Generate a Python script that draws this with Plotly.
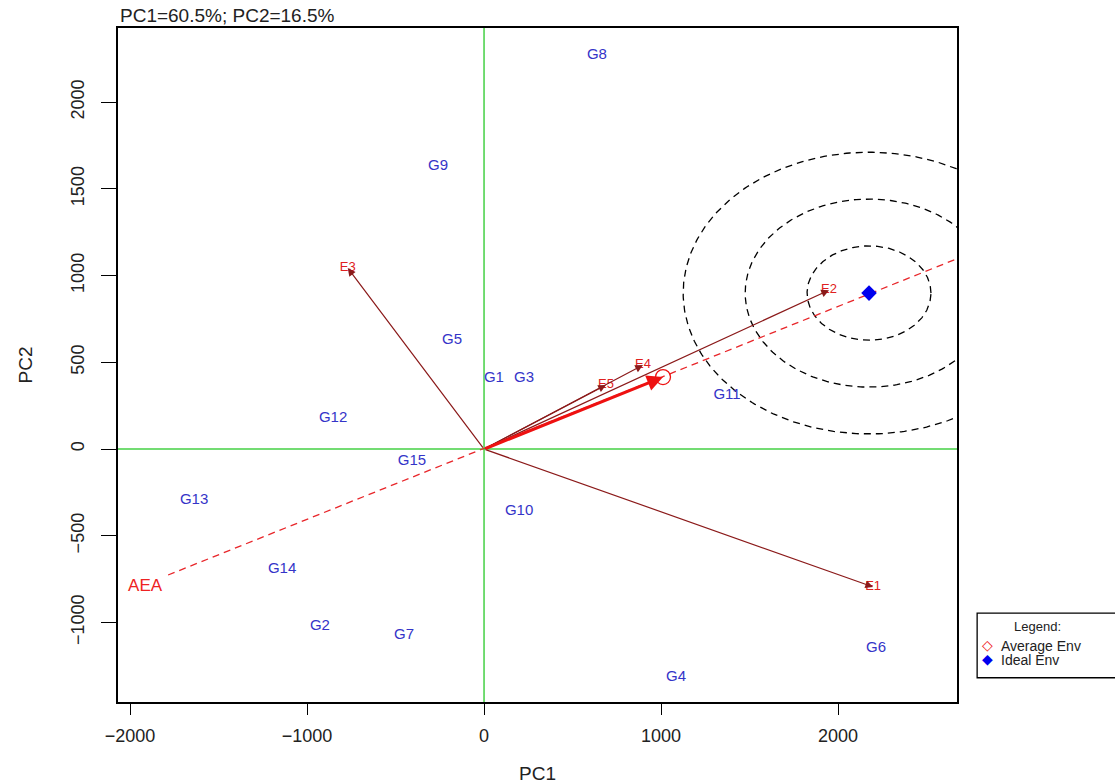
import numpy as np
import plotly.graph_objects as go

# Genotype scores (PC1, PC2)
gen_names = ["G1", "G2", "G3", "G4", "G5", "G6", "G7", "G8", "G9", "G10",
             "G11", "G12", "G13", "G14", "G15"]
gen_pc1 = [56, -927, 226, 1085, -181, 2215, -452, 638, -260, 198,
           1373, -853, -1638, -1141, -407]
gen_pc2 = [409, -1020, 409, -1314, 628, -1147, -1072, 2271, 1631, -357,
           311, 179, -294, -692, -69]

# Environment vectors (PC1, PC2)
env_names = ["E1", "E2", "E3", "E4", "E5"]
env_pc1 = [2198, 1949, -770, 898, 689]
env_pc2 = [-795, 916, 1043, 484, 369]

# Average environment, ideal environment and AEA line end points
avg_env = (1011, 415)
ideal_env = (2175, 899)
aea_start = (-1785, -726)
aea_end = (2672, 1097)
aea_label = (-1915, -795)

# Concentric ring radii around the ideal environment (PC1, PC2 units)
ring_rx = [350, 700, 1050]
ring_ry = [272, 542, 812]

x_range = [-2068, 2672]
y_range = [-1458, 2427]

legend_title = "Legend:"
legend_labels = ["Average Env", "Ideal Env"]

FONT = "Liberation Sans, Arial, sans-serif"
ENV_COL = "#8b1a1a"
GEN_COL = "#3434c8"
GREEN = "#44d044"

fig = go.Figure()

# Green axes through origin
fig.add_trace(go.Scatter(x=x_range, y=[0, 0], mode="lines",
                         line=dict(color=GREEN, width=1.5), showlegend=False, hoverinfo="skip"))
fig.add_trace(go.Scatter(x=[0, 0], y=y_range, mode="lines",
                         line=dict(color=GREEN, width=1.5), showlegend=False, hoverinfo="skip"))

# Concentric dashed rings
t = np.linspace(0, 2 * np.pi, 361)
for rx, ry in zip(ring_rx, ring_ry):
    fig.add_trace(go.Scatter(x=ideal_env[0] + rx * np.cos(t), y=ideal_env[1] + ry * np.sin(t),
                             mode="lines", line=dict(color="black", width=1.3, dash="7px,5px"),
                             showlegend=False, hoverinfo="skip"))

# AEA dashed line
fig.add_trace(go.Scatter(x=[aea_start[0], aea_end[0]], y=[aea_start[1], aea_end[1]],
                         mode="lines", line=dict(color="#e8262a", width=1.3, dash="7px,5px"),
                         showlegend=False, hoverinfo="skip"))

# Environment vectors as arrows
for name, ex, ey in zip(env_names, env_pc1, env_pc2):
    fig.add_annotation(x=ex, y=ey, ax=0, ay=0, xref="x", yref="y", axref="x", ayref="y",
                       text="", showarrow=True, arrowhead=2, arrowsize=1.3, arrowwidth=1.2,
                       arrowcolor=ENV_COL, standoff=0)

# Thick arrow to average environment
fig.add_annotation(x=avg_env[0], y=avg_env[1], ax=0, ay=0, xref="x", yref="y",
                   axref="x", ayref="y", text="", showarrow=True, arrowhead=2,
                   arrowsize=1.0, arrowwidth=3.2, arrowcolor="#ee1111", standoff=0)

# Environment labels
fig.add_trace(go.Scatter(x=env_pc1, y=env_pc2, mode="text", text=env_names,
                         textfont=dict(family=FONT, size=13, color="#e02020"),
                         showlegend=False, hoverinfo="skip"))

# Genotype labels
fig.add_trace(go.Scatter(x=gen_pc1, y=gen_pc2, mode="text", text=gen_names,
                         textfont=dict(family=FONT, size=15, color=GEN_COL),
                         showlegend=False, hoverinfo="skip"))

# AEA label
fig.add_trace(go.Scatter(x=[aea_label[0]], y=[aea_label[1]], mode="text", text=["AEA"],
                         textfont=dict(family=FONT, size=17, color="#ee2222"),
                         showlegend=False, hoverinfo="skip"))

# Average env marker and ideal env marker
fig.add_trace(go.Scatter(x=[avg_env[0]], y=[avg_env[1]], mode="markers",
                         marker=dict(symbol="circle-open", size=15, color="#ee1111",
                                     line=dict(width=1.3)),
                         showlegend=False))
fig.add_trace(go.Scatter(x=[ideal_env[0]], y=[ideal_env[1]], mode="markers",
                         marker=dict(symbol="diamond", size=12, color="#0000ee"),
                         showlegend=False))

axis_common = dict(showgrid=False, zeroline=False, showline=True, mirror=True,
                   linecolor="black", linewidth=1.5, ticks="outside",
                   tickwidth=1.4, tickcolor="black", automargin=False,
                   tickfont=dict(family=FONT, size=18, color="#222"))

# Manual legend box (outside the plot, right side)
lx0, lx1, ly0, ly1 = 1.024, 1.21, 0.036, 0.132
shapes = [dict(type="rect", xref="paper", yref="paper", x0=lx0, x1=lx1, y0=ly0, y1=ly1,
               line=dict(color="black", width=1.3), fillcolor="white", layer="above")]
legend_ann = [
    dict(text=legend_title, x=0.0715 + lx0, y=ly1 - 0.006, xref="paper", yref="paper",
         xanchor="center", yanchor="top", showarrow=False,
         font=dict(family=FONT, size=13, color="#222")),
    dict(text="◇", x=lx0 + 0.003, y=ly1 - 0.033, xref="paper", yref="paper",
         xanchor="left", yanchor="top", showarrow=False,
         font=dict(family="DejaVu Sans", size=14, color="#ee1111")),
    dict(text=legend_labels[0], x=lx0 + 0.026, y=ly1 - 0.034, xref="paper", yref="paper",
         xanchor="left", yanchor="top", showarrow=False,
         font=dict(family=FONT, size=14, color="#222")),
    dict(text="◆", x=lx0 + 0.003, y=ly1 - 0.054, xref="paper", yref="paper",
         xanchor="left", yanchor="top", showarrow=False,
         font=dict(family="DejaVu Sans", size=14, color="#0000ee")),
    dict(text=legend_labels[1], x=lx0 + 0.026, y=ly1 - 0.055, xref="paper", yref="paper",
         xanchor="left", yanchor="top", showarrow=False,
         font=dict(family=FONT, size=14, color="#222")),
]

fig.update_layout(
    width=1115, height=784,
    margin=dict(l=118, r=158, t=28, b=82),
    plot_bgcolor="white", paper_bgcolor="white",
    showlegend=False,
    xaxis=dict(range=x_range, dtick=1000, tick0=0, ticklen=11, ticklabelstandoff=6,
               title=dict(text="PC1", font=dict(family=FONT, size=19, color="#222"), standoff=22),
               **axis_common),
    yaxis=dict(range=y_range, dtick=500, tick0=0, tickangle=-90, ticklen=15,
               ticklabelstandoff=10,
               title=dict(text="PC2", font=dict(family=FONT, size=19, color="#222"), standoff=30),
               **axis_common),
    shapes=shapes,
    annotations=list(fig.layout.annotations) + legend_ann + [
        dict(text="PC1=60.5%; PC2=16.5%", x=0, y=1, xref="paper", yref="paper",
             xanchor="left", yanchor="bottom", yshift=0, showarrow=False,
             font=dict(family=FONT, size=19, color="#222"))
    ],
)

fig.write_html("out.html")
